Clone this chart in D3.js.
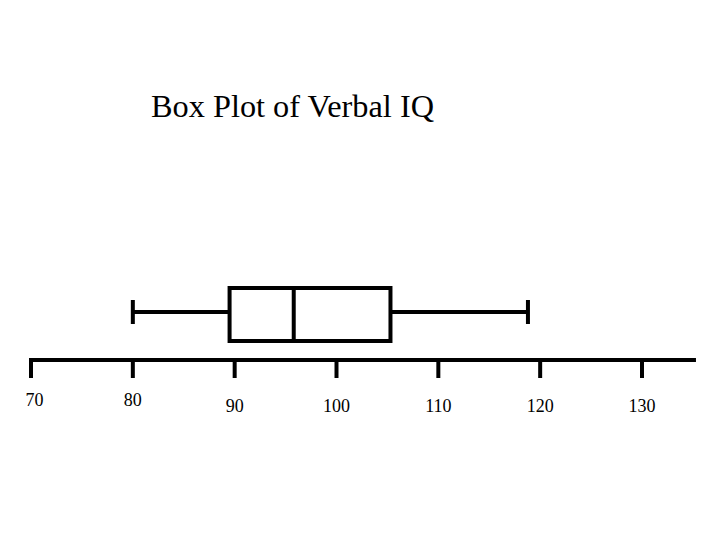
<!DOCTYPE html>
<html>
<head>
<meta charset="utf-8">
<script src="https://cdn.jsdelivr.net/npm/d3@7"></script>
<style>
  html, body { margin: 0; padding: 0; background: #fff; }
  svg text { font-family: "Times New Roman", "Liberation Serif", serif; fill: #000; }
</style>
</head>
<body>
<svg id="chart" width="720" height="540"></svg>
<script>
// ---- data ----
const title = "Box Plot of Verbal IQ";
const tickValues = [70, 80, 90, 100, 110, 120, 130];
const tickLabels = ["70", "80", "90", "100", "110", "120", "130"];
const boxStats = { min: 80, q1: 89.5, median: 95.8, q3: 105.3, max: 118.8 };
const axisEnd = 135.3;

// ---- drawing ----
const svg = d3.select("#chart");
const x = d3.scaleLinear().domain([70, 130]).range([31, 642]);

const sw = 4;
const axisY = 360;

// title
svg.append("text")
  .attr("x", 151).attr("y", 117)
  .attr("font-size", 31)
  .attr("textLength", 283)
  .attr("lengthAdjust", "spacingAndGlyphs")
  .text(title);

// axis line
svg.append("line")
  .attr("x1", x(70) - 2).attr("x2", x(axisEnd))
  .attr("y1", axisY).attr("y2", axisY)
  .attr("stroke", "#000").attr("stroke-width", sw);

// ticks
svg.selectAll("line.tick").data(tickValues).enter().append("line")
  .attr("class", "tick")
  .attr("x1", d => x(d)).attr("x2", d => x(d))
  .attr("y1", axisY).attr("y2", 378)
  .attr("stroke", "#000").attr("stroke-width", sw);

// tick labels
svg.selectAll("text.tl").data(tickValues).enter().append("text")
  .attr("class", "tl")
  .attr("x", d => x(d) + (d === 70 ? 3.5 : 0))
  .attr("y", d => d < 90 ? 406 : 412)
  .attr("text-anchor", "middle")
  .attr("font-size", 18)
  .text((d, i) => tickLabels[i]);

// box plot
const boxTop = 288, boxBot = 341, midY = 312;
const g = svg.append("g").attr("stroke", "#000").attr("stroke-width", sw).attr("fill", "none");

// whiskers
g.append("line").attr("x1", x(boxStats.min)).attr("x2", x(boxStats.q1))
  .attr("y1", midY).attr("y2", midY);
g.append("line").attr("x1", x(boxStats.q3)).attr("x2", x(boxStats.max))
  .attr("y1", midY).attr("y2", midY);
// caps
[boxStats.min, boxStats.max].forEach(v => {
  g.append("line").attr("x1", x(v)).attr("x2", x(v))
    .attr("y1", 300).attr("y2", 324);
});
// box
g.append("rect")
  .attr("x", x(boxStats.q1)).attr("y", boxTop)
  .attr("width", x(boxStats.q3) - x(boxStats.q1))
  .attr("height", boxBot - boxTop)
  .attr("fill", "#fff");
// median
g.append("line").attr("x1", x(boxStats.median)).attr("x2", x(boxStats.median))
  .attr("y1", boxTop).attr("y2", boxBot);
</script>
</body>
</html>
